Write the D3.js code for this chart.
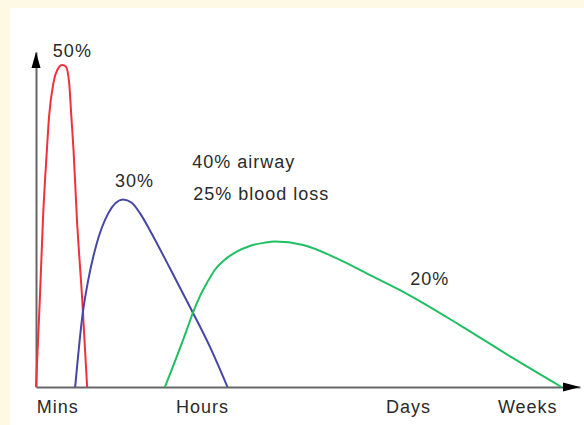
<!DOCTYPE html>
<html>
<head>
<meta charset="utf-8">
<script src="https://cdn.jsdelivr.net/npm/d3@7"></script>
<style>
  html, body { margin: 0; padding: 0; background: #fdf9e5; }
  #chart { width: 584px; height: 425px; }
  text { font-family: "Liberation Sans", Arial, Helvetica, sans-serif; }
</style>
</head>
<body>
<div id="chart"></div>
<script>
// time axis runs 0..100 (arbitrary units), y is relative share of deaths
const redCurve = [
    [0, 0], [0.7, 26], [1.3, 50.8], [2.0, 70.7], [2.4, 80.7], [3.2, 90.7],
    [4.3, 95.6], [4.8, 96.1], [5.5, 95.6], [6.1, 90.7], [6.5, 80.7],
    [6.9, 70.7], [7.5, 50.8], [8.5, 26], [9.4, 0]
];
const blueCurve = [
    [7.2, 0], [8.6, 22.1], [9.6, 31.9], [11.0, 41.9], [13.3, 51.9], [16.0, 56.0],
    [17.6, 55.0], [19.1, 51.9], [21.0, 46.6], [24.6, 35.5], [28.3, 23.9],
    [32.0, 11.9], [35.2, 0]
];
const greenCurve = [
    [23.7, 0], [27.7, 17.0], [28.8, 22.0], [30.1, 27.0], [31.4, 31.0], [32.9, 35.0],
    [34.7, 38.0], [36.9, 40.4], [39.3, 42.1], [42.1, 43.1], [43.9, 43.4],
    [49.1, 42.4], [55.3, 38.4], [61.4, 33.4], [67.5, 28.4],
    [77.9, 18.5], [87.7, 8.6], [96.6, 0]
];
const tickLabels = ["Mins", "Hours", "Days", "Weeks"];
const tickValues = [3.9, 30.5, 68.4, 90.3];
const notes = [
    { text: "50%", x: 3.1, y: 98.5 },
    { text: "30%", x: 14.5, y: 59.7 },
    { text: "40% airway", x: 28.7, y: 65.4 },
    { text: "25% blood loss", x: 28.9, y: 55.8 },
    { text: "20%", x: 68.8, y: 30.4 }
];

const W = 584, H = 425;
const svg = d3.select("#chart").append("svg")
    .attr("width", W)
    .attr("height", H);

// white panel on the cream page
svg.append("rect")
    .attr("x", 10).attr("y", 8)
    .attr("width", W - 10).attr("height", H - 8)
    .attr("fill", "#ffffff");

const x = d3.scaleLinear().domain([0, 100]).range([36, 580]);
const y = d3.scaleLinear().domain([0, 100]).range([387, 52]);

// x axis
const xAxis = svg.append("g")
    .attr("transform", `translate(0,${y(0)})`)
    .call(d3.axisBottom(x)
        .tickValues(tickValues)
        .tickFormat((d, i) => tickLabels[i])
        .tickSize(0)
        .tickPadding(13));
xAxis.select(".domain").attr("stroke", "#666").attr("stroke-width", 2);
xAxis.selectAll("text")
    .attr("font-size", 18)
    .attr("letter-spacing", "1px")
    .attr("fill", "#2a2a2a");

// y axis, no ticks
const yAxis = svg.append("g")
    .attr("transform", `translate(${x(0)},0)`)
    .call(d3.axisLeft(y).tickValues([]).tickSizeOuter(0));
yAxis.select(".domain").attr("stroke", "#666").attr("stroke-width", 2);

// arrow heads
svg.append("path")
    .attr("d", `M${x(100)},${y(0)} L${x(100) - 17},${y(0) - 4.5} L${x(100) - 17},${y(0) + 4.5} Z`)
    .attr("fill", "#000");
svg.append("path")
    .attr("d", `M${x(0)},${y(100)} L${x(0) - 4.5},${y(100) + 16} L${x(0) + 4.5},${y(100) + 16} Z`)
    .attr("fill", "#000");

const line = d3.line()
    .x(d => x(d[0]))
    .y(d => y(d[1]))
    .curve(d3.curveMonotoneX);

const series = [
    { pts: redCurve, color: "#f2303c" },
    { pts: blueCurve, color: "#4646a6" },
    { pts: greenCurve, color: "#20bf62" }
];

svg.selectAll(".curve")
    .data(series)
    .enter().append("path")
    .attr("class", "curve")
    .attr("d", d => line(d.pts))
    .attr("fill", "none")
    .attr("stroke", d => d.color)
    .attr("stroke-width", 2);

svg.selectAll(".note")
    .data(notes)
    .enter().append("text")
    .attr("class", "note")
    .attr("x", d => x(d.x))
    .attr("y", d => y(d.y))
    .attr("font-size", 18)
    .attr("letter-spacing", "1px")
    .attr("fill", "#2a2a2a")
    .text(d => d.text);
</script>
</body>
</html>
